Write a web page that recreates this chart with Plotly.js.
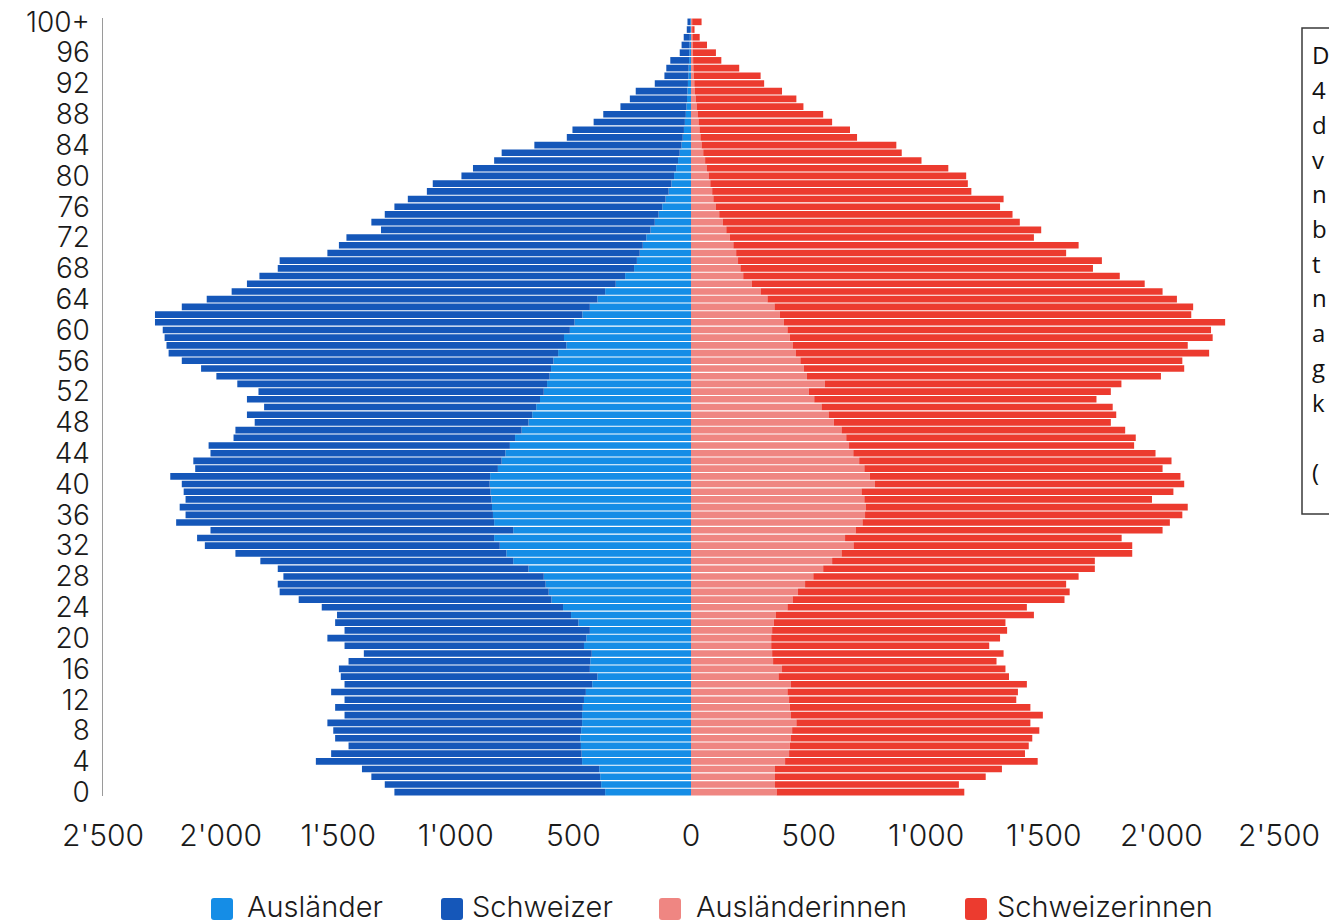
<!DOCTYPE html>
<html><head><meta charset="utf-8">
<script src="https://cdn.plot.ly/plotly-3.0.1.min.js"></script>
<style>html,body{margin:0;padding:0;background:#fff;overflow:hidden}#chart{width:1329px;height:923px}</style>
</head><body><div id="chart"></div>
<script>
// Age categories 0 .. 100+ (index = age)
const ages = [0,1,2,3,4,5,6,7,8,9,10,11,12,13,14,15,16,17,18,19,20,21,22,23,24,25,26,27,28,29,30,31,32,33,34,35,36,37,38,39,40,41,42,43,44,45,46,47,48,49,50,51,52,53,54,55,56,57,58,59,60,61,62,63,64,65,66,67,68,69,70,71,72,73,74,75,76,77,78,79,80,81,82,83,84,85,86,87,88,89,90,91,92,93,94,95,96,97,98,99,100];

// Men (drawn to the left)
const auslaender = [365,382,386,390,463,465,468,471,467,463,463,460,455,447,420,398,430,428,422,455,445,430,479,510,544,593,605,618,626,691,756,785,813,837,756,837,842,846,848,852,856,854,821,805,789,770,748,720,691,675,658,642,626,612,601,595,585,565,530,540,515,495,462,430,398,365,320,280,242,230,218,205,190,172,154,138,122,108,95,83,72,63,55,48,40,35,30,26,22,19,17,15,13,11,10,8,7,6,5,4,3];
const schweizer = [896,920,973,1009,1132,1065,988,1042,1054,1083,1010,1053,1018,1083,1053,1091,1067,1028,969,1018,1101,1043,1034,995,1026,1075,1144,1139,1107,1066,1075,1152,1254,1263,1287,1352,1307,1328,1301,1305,1309,1360,1287,1311,1254,1281,1197,1217,1164,1213,1157,1246,1213,1317,1417,1488,1580,1656,1700,1698,1731,1784,1817,1735,1661,1588,1568,1555,1515,1519,1328,1292,1275,1146,1205,1164,1139,1096,1028,1015,904,864,782,757,626,493,474,388,351,281,243,220,141,102,95,80,41,34,26,14,12];

// Women (drawn to the right)
const auslaenderinnen = [364,357,357,357,400,417,420,425,430,448,425,420,417,410,425,372,387,349,345,341,341,345,352,360,410,432,455,485,520,562,600,640,691,655,700,729,740,744,737,725,782,760,737,715,690,672,660,640,607,585,555,524,501,569,493,480,465,445,432,420,410,395,378,355,325,296,258,222,210,200,192,180,165,150,135,120,105,95,90,82,75,68,60,52,45,40,36,32,28,24,20,17,14,12,10,9,8,7,6,5,5];
const schweizerinnen = [798,782,896,965,1074,1003,1016,1026,1051,995,1071,1023,966,980,1003,980,950,950,984,927,973,999,985,1098,1018,1156,1155,1110,1128,1155,1117,1236,1185,1176,1305,1307,1349,1368,1223,1326,1315,1321,1268,1328,1285,1212,1231,1206,1178,1223,1238,1200,1284,1261,1505,1617,1624,1758,1680,1798,1801,1876,1749,1780,1741,1709,1671,1601,1499,1547,1403,1468,1293,1339,1263,1247,1209,1234,1102,1095,1095,1026,920,844,828,666,640,568,534,454,428,370,297,284,195,120,98,61,31,10,40];

const seriesNames = ['Ausländer','Schweizer','Ausländerinnen','Schweizerinnen'];
const seriesColors = ['#158DE6','#1557B9','#EF8682','#EC3B2F'];

const xTickVals = [-2500,-2000,-1500,-1000,-500,0,500,1000,1500,2000,2500];
const xTickText = ["2'500","2'000","1'500","1'000","500","0","500","1'000","1'500","2'000","2'500"];
const yTickVals = [0,4,8,12,16,20,24,28,32,36,40,44,48,52,56,60,64,68,72,76,80,84,88,92,96,100];
const yTickText = ['0','4','8','12','16','20','24','28','32','36','40','44','48','52','56','60','64','68','72','76','80','84','88','92','96','100+'];

const boxLetters = ['D','4','d','v','n','b','t','n','a','g','k','','('];

const W = 1329, H = 923, ML = 103, MR = 50, MT = 18, MB = 127;
const PW = W - ML - MR, PH = H - MT - MB;
const px2x = p => (p - ML) / PW;
const py2y = p => (H - MB - p) / PH;

const mk = (vals, i, sign) => ({
  type: 'bar', orientation: 'h', y: ages, x: vals.map(v => sign * v),
  name: seriesNames[i], marker: {color: seriesColors[i], line: {width: 0}},
  hoverinfo: 'skip'
});
const data = [mk(auslaender,0,-1), mk(schweizer,1,-1), mk(auslaenderinnen,2,1), mk(schweizerinnen,3,1)];

const FONT = 'Inter, Lato, "Open Sans", sans-serif';
const shapes = [];
const annotations = [];

// custom legend
const legendItems = [
  {sq: 222, tx: 245},
  {sq: 452, tx: 470},
  {sq: 670, tx: 694},
  {sq: 976, tx: 995}
];
const r = 11, c = 3;
const rr = `M ${-r+c},${-r} L ${r-c},${-r} Q ${r},${-r} ${r},${-r+c} L ${r},${r-c} Q ${r},${r} ${r-c},${r} L ${-r+c},${r} Q ${-r},${r} ${-r},${r-c} L ${-r},${-r+c} Q ${-r},${-r} ${-r+c},${-r} Z`;
legendItems.forEach((it, i) => {
  shapes.push({type:'path', xref:'paper', yref:'paper', xsizemode:'pixel', ysizemode:'pixel',
    xanchor: px2x(it.sq), yanchor: py2y(909), path: rr, fillcolor: seriesColors[i], line:{width:0}});
  annotations.push({xref:'paper', yref:'paper', x: px2x(it.tx), y: py2y(906), xanchor:'left', yanchor:'middle',
    text: seriesNames[i], showarrow:false, font:{family: FONT, size: 29, color:'#1a1a1a', weight: 300}});
});

// clipped text box at the right edge
shapes.push({type:'rect', xref:'paper', yref:'paper', x0: px2x(1302), x1: px2x(1400), y0: py2y(514), y1: py2y(28),
  line:{color:'#3a3a3a', width:1.5}, fillcolor:'rgba(0,0,0,0)'});
boxLetters.forEach((t, i) => {
  if (!t) return;
  annotations.push({xref:'paper', yref:'paper', x: px2x(1310), y: py2y(55 + i*34.7), xanchor:'left', yanchor:'middle',
    text: t, showarrow:false, font:{family:'"Open Sans", "Liberation Sans", sans-serif', size: 24, color:'#111'}});
});

const layout = {
  width: W, height: H,
  margin: {l: ML, r: MR, t: MT, b: MB, pad: 0},
  paper_bgcolor: '#fff', plot_bgcolor: '#fff',
  barmode: 'relative', bargap: 0.14,
  showlegend: false,
  font: {family: FONT, color: '#1a1a1a'},
  xaxis: {range: [-2500, 2500], tickmode: 'array', tickvals: xTickVals, ticktext: xTickText,
    showgrid: false, zeroline: false, showline: false, ticks: '', ticklabelstandoff: 19,
    tickfont: {family: FONT, size: 30, color: '#1a1a1a', weight: 300}, fixedrange: true},
  yaxis: {range: [-0.5, 100.5], tickmode: 'array', tickvals: yTickVals, ticktext: yTickText,
    showgrid: false, zeroline: false, showline: true, linecolor: '#9a9a9a', linewidth: 1.5, ticks: '',
    ticklabelstandoff: 6, tickfont: {family: FONT, size: 28, color: '#1a1a1a', weight: 300}, fixedrange: true},
  shapes: shapes, annotations: annotations
};

Plotly.newPlot('chart', data, layout, {staticPlot: true, displayModeBar: false});
</script></body></html>
